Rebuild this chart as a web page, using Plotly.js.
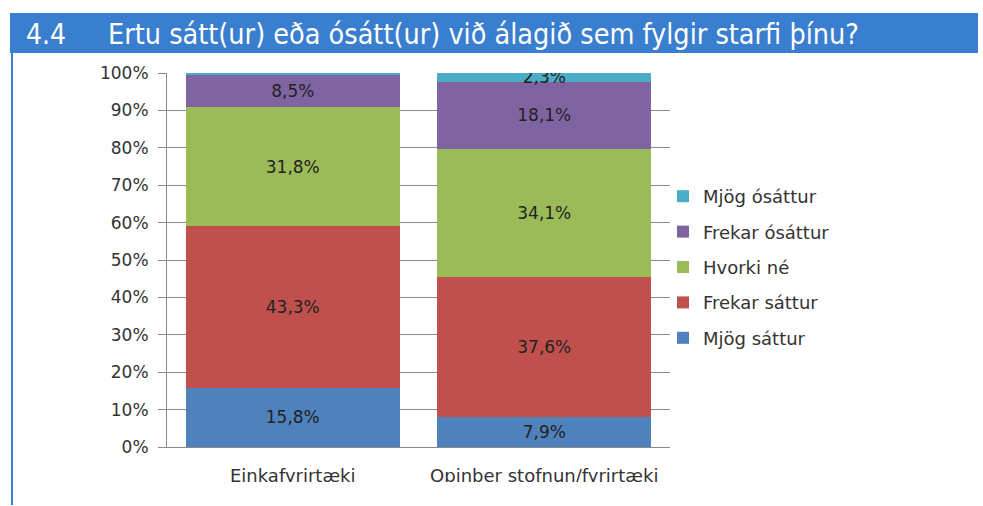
<!DOCTYPE html>
<html>
<head>
<meta charset="utf-8">
<script src="https://cdn.plot.ly/plotly-3.0.1.min.js"></script>
<style>html,body{margin:0;padding:0;background:#fff;}#chart{width:983px;height:506px;}</style>
</head>
<body>
<div id="chart"></div>
<script>
const categories = ["Einkafyrirtæki", "Opinber stofnun/fyrirtæki"];
const seriesNames = ["Mjög sáttur", "Frekar sáttur", "Hvorki né", "Frekar ósáttur", "Mjög ósáttur"];
const mjogSattur = [15.8, 7.9];
const frekarSattur = [43.3, 37.6];
const hvorkiNe = [31.8, 34.1];
const frekarOsattur = [8.5, 18.1];
const mjogOsattur = [0.6, 2.3];
const showLabel = [[true, true], [true, true], [true, true], [true, true], [false, true]];
const yTicks = [0, 10, 20, 30, 40, 50, 60, 70, 80, 90, 100];
const titleNumber = "4.4";
const titleText = "Ertu sátt(ur) eða ósátt(ur) við álagið sem fylgir starfi þínu?";

const values = [mjogSattur, frekarSattur, hvorkiNe, frekarOsattur, mjogOsattur];
const colors = ["#4f81bd", "#c0504d", "#9bbb59", "#8064a2", "#4bacc6"];
const fmt = v => v.toFixed(1).replace(".", ",") + "%";
const FONT = "DejaVu Sans, Open Sans, sans-serif";

const traces = values.map((vals, i) => ({
  type: "bar",
  name: seriesNames[i],
  legendgroup: "g" + i,
  legendrank: 1000 - i,
  x: categories,
  y: vals,
  marker: {color: colors[i]},
  text: vals.map((v, j) => showLabel[i][j] ? fmt(v) : ""),
  textposition: "inside",
  insidetextanchor: "middle",
  constraintext: "none",
  textfont: {family: FONT, size: 17, color: "#222"},
  hoverinfo: "none"
}));

const W = 983, H = 506, L = 167, R = 670, T = 73, B = 447;
const px = x => (x - L) / (R - L);
const py = y => (B - y) / (B - T);

const layout = {
  width: W, height: H,
  margin: {l: L, r: W - R, t: T, b: H - B, pad: 0},
  paper_bgcolor: "#fff", plot_bgcolor: "#fff",
  barmode: "stack",
  bargap: 0.15,
  showlegend: true,
  legend: {
    x: px(663), y: py(178), xanchor: "left", yanchor: "top",
    traceorder: "grouped",
    font: {family: FONT, size: 18, color: "#333"},
    itemwidth: 30, tracegroupgap: 9,
    bgcolor: "rgba(0,0,0,0)"
  },
  xaxis: {
    type: "category",
    showline: true, linecolor: "#888", linewidth: 1,
    ticks: "", showgrid: false,
    ticklabelstandoff: 12,
    tickfont: {family: FONT, size: 18, color: "#333"},
    fixedrange: true
  },
  yaxis: {
    range: [0, 100],
    tickvals: yTicks,
    ticktext: yTicks.map(v => v + "%"),
    showline: true, linecolor: "#888", linewidth: 1,
    ticks: "outside", ticklen: 8, tickcolor: "#888",
    ticklabelstandoff: 6,
    showgrid: true, gridcolor: "#8c8c8c", gridwidth: 1,
    zeroline: false,
    tickfont: {family: FONT, size: 17, color: "#333"},
    fixedrange: true
  },
  shapes: [
    {type: "rect", xref: "paper", yref: "paper", x0: px(14), x1: px(983), y0: py(506), y1: py(482),
     fillcolor: "#fff", line: {width: 0}, layer: "above"},
    {type: "rect", xref: "paper", yref: "paper", x0: px(10), x1: px(978), y0: py(53), y1: py(13),
     fillcolor: "#3a7ecf", line: {width: 0}, layer: "above"},
    {type: "line", xref: "paper", yref: "paper", x0: px(12), x1: px(12), y0: py(505), y1: py(53),
     line: {color: "#3a7ed6", width: 2}, layer: "above"}
  ],
  annotations: [
    {xref: "paper", yref: "paper", x: px(24), y: py(34), xanchor: "left", yanchor: "middle",
     text: titleNumber, showarrow: false,
     font: {family: "Liberation Sans Narrow, DejaVu Sans Condensed, sans-serif", size: 28, color: "#fff"}},
    {xref: "paper", yref: "paper", x: px(106), y: py(34), xanchor: "left", yanchor: "middle",
     text: titleText, showarrow: false,
     font: {family: "Liberation Sans Narrow, DejaVu Sans Condensed, sans-serif", size: 28.5, color: "#fff"}}
  ]
};

Plotly.newPlot("chart", traces, layout, {displayModeBar: false, staticPlot: true});
</script>
</body>
</html>
